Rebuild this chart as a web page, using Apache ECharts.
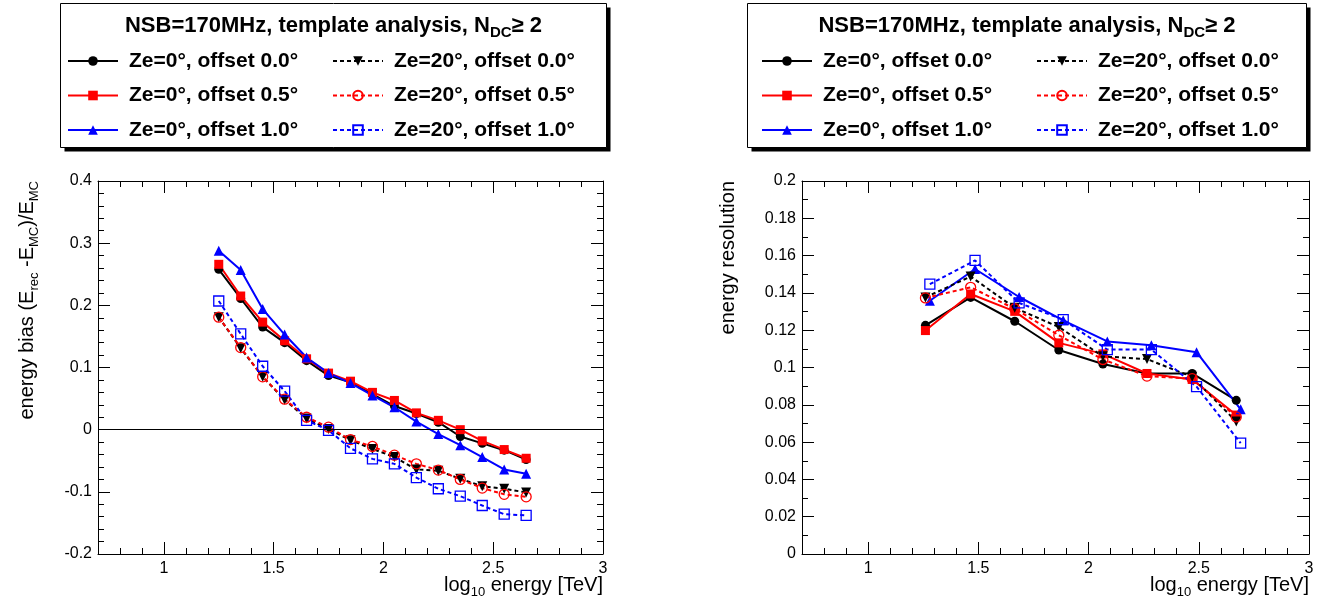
<!DOCTYPE html>
<html><head><meta charset="utf-8">
<script src="https://cdn.jsdelivr.net/npm/echarts@6/dist/echarts.min.js"></script>
<style>html,body{margin:0;padding:0;background:#fff}#c{width:1325px;height:599px}</style>
</head><body><div id="c"></div>
<script>
// ---------- data ----------
const seriesNames = ['Ze=0°, offset 0.0°', 'Ze=0°, offset 0.5°', 'Ze=0°, offset 1.0°',
                     'Ze=20°, offset 0.0°', 'Ze=20°, offset 0.5°', 'Ze=20°, offset 1.0°'];

// left panel: energy bias
const xBias = [1.25,1.35,1.45,1.55,1.65,1.75,1.85,1.95,2.05,2.15,2.25,2.35,2.45,2.55,2.65];
const biasZe0Off00  = [0.258,0.211,0.165,0.140,0.111,0.087,0.076,0.057,0.038,0.026,0.012,-0.011,-0.022,-0.033,-0.048];
const biasZe0Off05  = [0.266,0.215,0.173,0.143,0.114,0.091,0.078,0.060,0.047,0.027,0.015,0.000,-0.018,-0.032,-0.046];
const biasZe0Off10  = [0.288,0.257,0.194,0.153,0.116,0.091,0.075,0.055,0.036,0.013,-0.007,-0.025,-0.044,-0.064,-0.071];
const biasZe20Off00 = [0.181,0.131,0.085,0.048,0.018,0.001,-0.017,-0.031,-0.044,-0.064,-0.066,-0.079,-0.091,-0.095,-0.101];
const biasZe20Off05 = [0.181,0.132,0.085,0.049,0.020,0.004,-0.016,-0.027,-0.041,-0.055,-0.065,-0.080,-0.094,-0.104,-0.108];
const biasZe20Off10 = [0.207,0.154,0.102,0.062,0.015,-0.001,-0.030,-0.047,-0.055,-0.077,-0.095,-0.107,-0.122,-0.136,-0.138];

// right panel: energy resolution
const xRes      = [1.26,1.465,1.665,1.865,2.065,2.265,2.47,2.67];
const xResOff10 = [1.28,1.485,1.685,1.885,2.085,2.285,2.49,2.69];
const resZe0Off00  = [0.1226,0.1376,0.1248,0.1094,0.1019,0.0968,0.0968,0.0824];
const resZe0Off05  = [0.1198,0.1394,0.1301,0.1132,0.1073,0.0968,0.0936,0.0745];
const resZe0Off10  = [0.1358,0.1528,0.1378,0.1253,0.1140,0.1119,0.1082,0.0776];
const resZe20Off00 = [0.1376,0.1488,0.1320,0.1217,0.1060,0.1045,0.0950,0.0710];
const resZe20Off05 = [0.1373,0.1430,0.1315,0.1173,0.1043,0.0954,0.0940,0.0735];
const resZe20Off10 = [0.1447,0.1574,0.1346,0.1257,0.1096,0.1096,0.0897,0.0594];

const xRange = [0.7, 3];
const biasRange = [-0.2, 0.4, 0.1];
const resRange = [0, 0.2, 0.02];

// ---------- styles ----------
const FONT = 'Liberation Sans, Arial, Helvetica, sans-serif';
const styles = [
  {color:'#000000', symbol:'circle',   size:9,  rot:0,   dashed:false, hollow:false},
  {color:'#ff0000', symbol:'rect',     size:9,  rot:0,   dashed:false, hollow:false},
  {color:'#0000ff', symbol:'triangle', size:10, rot:0,   dashed:false, hollow:false},
  {color:'#000000', symbol:'triangle', size:10, rot:180, dashed:true,  hollow:false},
  {color:'#ff0000', symbol:'circle',   size:10, rot:0,   dashed:true,  hollow:true},
  {color:'#0000ff', symbol:'rect',     size:10, rot:0,   dashed:true,  hollow:true}
];

function makeSeries(name, st, xs, ys, xi, yi) {
  return {
    type:'line', name, xAxisIndex:xi, yAxisIndex:yi,
    data: xs.map((x,i)=>[x, ys[i]]),
    symbol: st.symbol, symbolSize: st.size, symbolRotate: st.rot,
    showSymbol:true, showAllSymbol:true, clip:false,
    lineStyle:{color:st.color, width:2, type: st.dashed ? [4,3] : 'solid'},
    itemStyle: st.hollow ? {color:'rgba(0,0,0,0)', borderColor:st.color, borderWidth:1.3}
                         : {color:st.color, borderWidth:0},
    emphasis:{disabled:true}
  };
}

function xAxes(gi) {
  const common = {type:'value', gridIndex:gi, min:xRange[0], max:xRange[1], splitLine:{show:false}};
  const lbl = {color:'#000', fontSize:16, fontFamily:FONT, margin:7, showMinLabel:false};
  return [
    Object.assign({}, common, {position:'bottom', splitNumber:5,
      axisLine:{show:true, onZero:false, lineStyle:{color:'#000', width:1}},
      axisTick:{show:true, inside:true, length:12, lineStyle:{color:'#000', width:1}},
      axisLabel:lbl}),
    Object.assign({}, common, {position:'bottom', interval:0.1,
      axisLine:{show:false, onZero:false}, axisTick:{show:true, inside:true, length:6, lineStyle:{color:'#000', width:1}},
      axisLabel:{show:false}}),
    Object.assign({}, common, {position:'top', splitNumber:5,
      axisLine:{show:true, onZero:false, lineStyle:{color:'#000', width:1}},
      axisTick:{show:true, inside:true, length:12, lineStyle:{color:'#000', width:1}},
      axisLabel:{show:false}}),
    Object.assign({}, common, {position:'top', interval:0.1,
      axisLine:{show:false, onZero:false}, axisTick:{show:true, inside:true, length:6, lineStyle:{color:'#000', width:1}},
      axisLabel:{show:false}})
  ];
}
function yAxes(gi, rng, minorSplit) {
  const common = {type:'value', gridIndex:gi, min:rng[0], max:rng[1], interval:rng[2], splitLine:{show:false},
    axisLine:{show:true, onZero:false, lineStyle:{color:'#000', width:1}},
    axisTick:{show:true, inside:true, length:12, lineStyle:{color:'#000', width:1}},
    minorTick:{show:true, splitNumber:minorSplit, length:6, lineStyle:{color:'#000', width:1}},
    minorSplitLine:{show:false}};
  return [
    Object.assign({}, common, {position:'left', axisLabel:{color:'#000', fontSize:16, fontFamily:FONT, margin:6}}),
    Object.assign({}, common, {position:'right', axisLabel:{show:false}})
  ];
}

const series = [];
const biasData = [biasZe0Off00, biasZe0Off05, biasZe0Off10, biasZe20Off00, biasZe20Off05, biasZe20Off10];
const resData  = [resZe0Off00, resZe0Off05, resZe0Off10, resZe20Off00, resZe20Off05, resZe20Off10];
biasData.forEach((ys,k)=>series.push(makeSeries(seriesNames[k], styles[k], xBias, ys, 0, 0)));
series[0].markLine = {silent:true, symbol:'none', label:{show:false}, animation:false,
  lineStyle:{color:'#000', width:1, type:'solid'}, emphasis:{disabled:true}, data:[{yAxis:0}]};
resData.forEach((ys,k)=>series.push(makeSeries(seriesNames[k], styles[k], (k===2||k===5)?xResOff10:xRes, ys, 4, 2)));

function legendCol(left, names) {
  return {left, top:45, orient:'vertical', data:names, itemWidth:50, itemHeight:12, itemGap:12.5,
    selectedMode:false, inactiveColor:'#000',
    textStyle:{fontSize:21, fontWeight:'bold', fontFamily:FONT, color:'#000', lineHeight:22, padding:[0,0,0,6]}};
}

const titleRich = {
  b:{fontSize:22, fontWeight:'bold', fontFamily:FONT, color:'#000', lineHeight:28},
  s:{fontSize:15, fontWeight:'bold', fontFamily:FONT, color:'#000', padding:[14,0,0,0]}
};
const axRich = {
  a:{fontSize:20, fontFamily:FONT, color:'#000', lineHeight:28},
  s:{fontSize:13, fontFamily:FONT, color:'#000', padding:[14,0,0,0]}
};

function legendBox(x, y, w, h) {
  return [
    {type:'rect', shape:{x:x+4, y:y+4, width:w, height:h}, style:{fill:'#000'}, z:0, silent:true},
    {type:'rect', shape:{x:x, y:y, width:w, height:h}, style:{fill:'#fff', stroke:'#000', lineWidth:1}, z:1, silent:true},
    {type:'text', x:x+w/2, y:y+22, z:2, silent:true, style:{text:'{b|NSB=170MHz, template analysis, N}{s|DC}{b|≥ 2}',
      rich:titleRich, align:'center', verticalAlign:'middle'}}
  ];
}

const graphics = [].concat(
  legendBox(60.5, 3.5, 546, 144),
  legendBox(747.5, 3.5, 559, 144),
  [
    {type:'text', x:603, y:585, silent:true, style:{text:'{a|log}{s|10}{a| energy [TeV]}', rich:axRich, align:'right', verticalAlign:'middle'}},
    {type:'text', x:1309, y:585, silent:true, style:{text:'{a|log}{s|10}{a| energy [TeV]}', rich:axRich, align:'right', verticalAlign:'middle'}},
    {type:'text', x:27, y:181, rotation:Math.PI/2, silent:true, style:{text:'{a|energy bias (E}{s|rec}{a| -E}{s|MC}{a|)/E}{s|MC}', rich:axRich, align:'right', verticalAlign:'middle'}},
    {type:'text', x:728, y:181, rotation:Math.PI/2, silent:true, style:{text:'{a|energy resolution}', rich:axRich, align:'right', verticalAlign:'middle'}}
  ]
);

const option = {
  animation:false,
  backgroundColor:'#fff',
  grid:[
    {left:98, top:181, width:505, height:373, containLabel:false},
    {left:802, top:181, width:507, height:373, containLabel:false}
  ],
  xAxis: xAxes(0).concat(xAxes(1)),
  yAxis: yAxes(0, biasRange, 5).concat(yAxes(1, resRange, 2)),
  legend:[
    legendCol(62, seriesNames.slice(0,3)),
    legendCol(327, seriesNames.slice(3,6)),
    legendCol(756, seriesNames.slice(0,3)),
    legendCol(1031, seriesNames.slice(3,6))
  ],
  graphic: graphics,
  series
};
const chart = echarts.init(document.getElementById('c'), null, {renderer:'canvas'});
chart.setOption(option);
</script></body></html>
